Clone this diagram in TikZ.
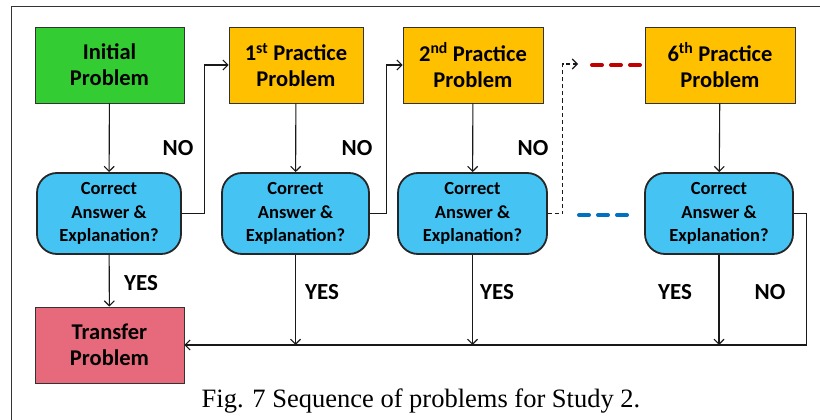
\documentclass[tikz,border=0pt]{standalone}
\usepackage{fontspec}
\setmainfont{Liberation Serif}
\newfontfamily\calibri{Carlito}
\usetikzlibrary{positioning,arrows.meta,calc}
\definecolor{qgreen}{HTML}{33CC33}
\definecolor{qorange}{HTML}{FFC000}
\definecolor{qblue}{HTML}{45C4F4}
\definecolor{qpink}{HTML}{E66A7B}
\definecolor{qred}{HTML}{C00000}
\definecolor{qdash}{HTML}{0070C0}

\begin{document}
\begin{tikzpicture}[x=1pt,y=-1pt,
    prob/.style={draw=black!80,line width=0.8pt,minimum height=76pt,inner sep=0pt,align=center,
      font=\calibri\bfseries\fontsize{22.5}{26}\selectfont},
    check/.style={draw=black!85,line width=1.8pt,rounded corners=20pt,fill=qblue,minimum height=81pt,
      inner sep=0pt,align=center,font=\calibri\bfseries\fontsize{18.5}{23.5}\selectfont},
    lab/.style={font=\calibri\bfseries\fontsize{23}{26}\selectfont},
    flow/.style={line width=1.1pt,black!90},
    tip/.style={-{Straight Barb[length=5pt,width=10pt]}},
    gap/.style={line width=4pt,line cap=round,dash pattern=on 10pt off 9pt}]
    \useasboundingbox (0,0) rectangle (820,420);
    % frame
    \draw[black!80,line width=1pt] (11,420) -- (11,7) -- (820,7);
    % problems
    \node[prob,fill=qgreen,minimum width=149pt] (init) at (109.5,65) {Initial\\Problem};
    \node[prob,fill=qorange,minimum width=134pt] (p1) at (296,65) {1\textsuperscript{st} Practice\\Problem};
    \node[prob,fill=qorange,minimum width=140pt] (p2) at (473,65) {2\textsuperscript{nd} Practice\\Problem};
    \node[prob,fill=qorange,minimum width=150pt] (p6) at (720,65) {6\textsuperscript{th} Practice\\Problem};
    \node[prob,fill=qpink,minimum width=149pt] (tr) at (109.5,345) {Transfer\\Problem};
    % checks
    \node[check,minimum width=144pt] (c1) at (109,213.5) {Correct\\Answer \&\\Explanation?};
    \node[check,minimum width=147pt] (c2) at (295.5,213.5) {Correct\\Answer \&\\Explanation?};
    \node[check,minimum width=149pt] (c3) at (472.5,213.5) {Correct\\Answer \&\\Explanation?};
    \node[check,minimum width=148pt] (c6) at (719,213.5) {Correct\\Answer \&\\Explanation?};
    % down arrows
    \draw[flow,tip] (init) -- (c1);
    \draw[flow,tip] (p1) -- (c2);
    \draw[flow,tip] (p2) -- (c3);
    \draw[flow,tip] (p6) -- (c6);
    \draw[flow,tip] (c1) -- (tr);
    \draw[flow,tip] (c2.south) -- (c2.south |- tr.east);
    \draw[flow,tip] (c3.south) -- (c3.south |- tr.east);
    \draw[flow,tip] (c6.south) -- (c6.south |- tr.east);
    % NO loops
    \draw[flow,tip] (c1.east) -- ++(23,0) |- (p1.west);
    \draw[flow,tip] (c2.east) -- ++(17,0) |- (p2.west);
    \coordinate (skip) at (578,64);
    \draw[flow,tip,dash pattern=on 4pt off 3pt] (c3.east) -- ++(15,0) |- (skip);
    \draw[flow,tip] (c6.east) -- ++(13,0) |- (tr.east);
    % gaps
    \coordinate (ra) at (592,65);
    \coordinate (rb) at (640,65);
    \coordinate (ba) at (579,215);
    \coordinate (bb) at (627,215);
    \draw[gap,qred] (ra) -- (rb);
    \draw[gap,qdash] (ba) -- (bb);
    % labels
    \node[lab] (n1) at (178,148) {NO};
    \node[lab] (n2) at (357,148) {NO};
    \node[lab] (n3) at (533,148) {NO};
    \node[lab] (y1) at (141,283) {YES};
    \node[lab] (y2) at (322,292) {YES};
    \node[lab] (y3) at (497,292) {YES};
    \node[lab] (y6) at (675,292) {YES};
    \node[lab] (n6) at (770,292) {NO};
    \node[font=\fontsize{26.5}{30}\selectfont] (cap) at (421,401) {Fig. 7 Sequence of problems for Study 2.};
\end{tikzpicture}
\end{document}
